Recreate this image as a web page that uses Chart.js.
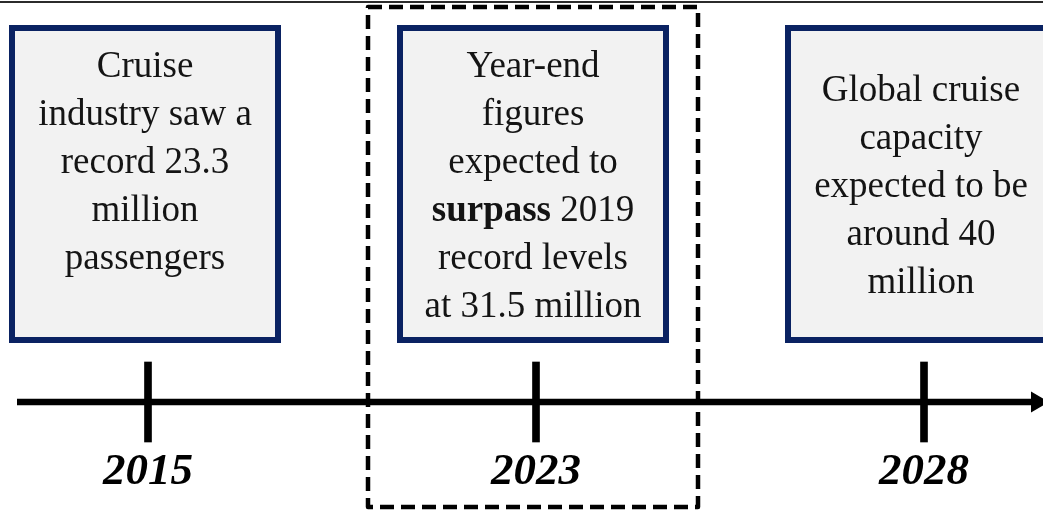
<!DOCTYPE html>
<html>
<head>
<meta charset="utf-8">
<script src="https://cdn.jsdelivr.net/npm/chart.js"></script>
<style>
  html, body { margin: 0; padding: 0; background: #fff; }
  #wrap { position: relative; width: 1043px; height: 512px; }
</style>
</head>
<body>
<div id="wrap"><canvas id="timeline"></canvas></div>
<script>
// timeline milestones
const years = ['2015', '2023', '2028'];
const captions = [
    ['Cruise', 'industry saw a', 'record 23.3', 'million', 'passengers'],
    ['Year-end', 'figures', 'expected to', '**surpass** 2019', 'record levels', 'at 31.5 million'],
    ['Global cruise', 'capacity', 'expected to be', 'around 40', 'million']
];
const highlightYear = '2023';

const SERIF = '"Liberation Serif", "Times New Roman", serif';

// draws one caption line, "**word**" parts in bold
function drawRichLine(ctx, text, cx, y, size) {
    const parts = text.split('**');
    const fonts = parts.map((p, i) => (i % 2 ? 'bold ' : '') + size + 'px ' + SERIF);
    let total = 0;
    const widths = parts.map((p, i) => {
        ctx.font = fonts[i];
        const w = ctx.measureText(p).width;
        total += w;
        return w;
    });
    let x = cx - total / 2;
    ctx.textAlign = 'left';
    parts.forEach((p, i) => {
        ctx.font = fonts[i];
        ctx.fillText(p, x, y);
        x += widths[i];
    });
}

const timelinePlugin = {
    id: 'timeline',
    beforeDatasetsDraw(chart, args, opts) {
        const ctx = chart.ctx;
        const x = chart.scales.x;
        const y = chart.scales.y;
        const axisY = y.getPixelForValue(0);
        ctx.save();

        // thin rule at the very top
        ctx.fillStyle = '#2b2b2b';
        ctx.fillRect(0, 1, chart.width, 2);

        // timeline axis with arrow head
        ctx.fillStyle = '#000';
        ctx.fillRect(17, axisY - 3.25, 1016, 6.5);
        ctx.beginPath();
        ctx.moveTo(1031, axisY - 10.5);
        ctx.lineTo(1049, axisY);
        ctx.lineTo(1031, axisY + 10.5);
        ctx.closePath();
        ctx.fill();

        // caption boxes
        years.forEach((yr, i) => {
            const cx = x.getPixelForValue(i) + opts.shift;
            const left = cx - opts.boxWidth / 2;
            ctx.fillStyle = '#F2F2F2';
            ctx.fillRect(left, opts.boxTop, opts.boxWidth, opts.boxHeight);
            ctx.strokeStyle = '#0A2262';
            ctx.lineWidth = 6;
            ctx.strokeRect(left + 3, opts.boxTop + 3, opts.boxWidth - 6, opts.boxHeight - 6);

            const lines = captions[i];
            const mid = opts.boxTop + opts.boxHeight / 2;
            const n = opts.valign[i] === 'top' ? 6 : lines.length;
            let base = mid - (n - 1) / 2 * opts.lineHeight + 13;
            ctx.fillStyle = '#141414';
            ctx.textBaseline = 'alphabetic';
            lines.forEach((ln, k) => {
                drawRichLine(ctx, ln, cx, base + k * opts.lineHeight, opts.fontSize);
            });
        });
        ctx.restore();
    },
    afterDatasetsDraw(chart, args, opts) {
        const ctx = chart.ctx;
        const i = years.indexOf(highlightYear);
        const cx = chart.scales.x.getPixelForValue(i) + opts.shift;
        ctx.save();
        ctx.strokeStyle = '#000';
        ctx.lineWidth = 4.5;
        ctx.setLineDash([14, 7]);
        ctx.lineJoin = 'round';
        ctx.strokeRect(cx - 165, 7, 330, 500);
        ctx.restore();
    }
};

new Chart(document.getElementById('timeline'), {
    type: 'bar',
    data: {
        labels: years,
        datasets: [{
            data: years.map(() => [-1, 1]),
            backgroundColor: '#000',
            borderWidth: 0,
            barThickness: 7,
            clip: false
        }]
    },
    options: {
        responsive: true,
        maintainAspectRatio: false,
        animation: false,
        layout: { padding: { left: 148, right: 119, top: 362, bottom: 9 } },
        plugins: {
            legend: { display: false },
            tooltip: { enabled: false },
            timeline: {
                shift: -3,
                boxWidth: 272,
                boxTop: 25,
                boxHeight: 318,
                lineHeight: 48,
                fontSize: 37,
                valign: ['top', 'middle', 'middle']
            }
        },
        scales: {
            x: {
                offset: false,
                grid: { display: false, drawTicks: false },
                border: { display: false },
                ticks: {
                    color: '#000',
                    padding: 8,
                    maxRotation: 0,
                    autoSkip: false,
                    font: { family: SERIF, size: 45, weight: 'bold', style: 'italic', lineHeight: 1 }
                }
            },
            y: { display: false, min: -1, max: 1 }
        }
    },
    plugins: [timelinePlugin]
});
</script>
</body>
</html>
